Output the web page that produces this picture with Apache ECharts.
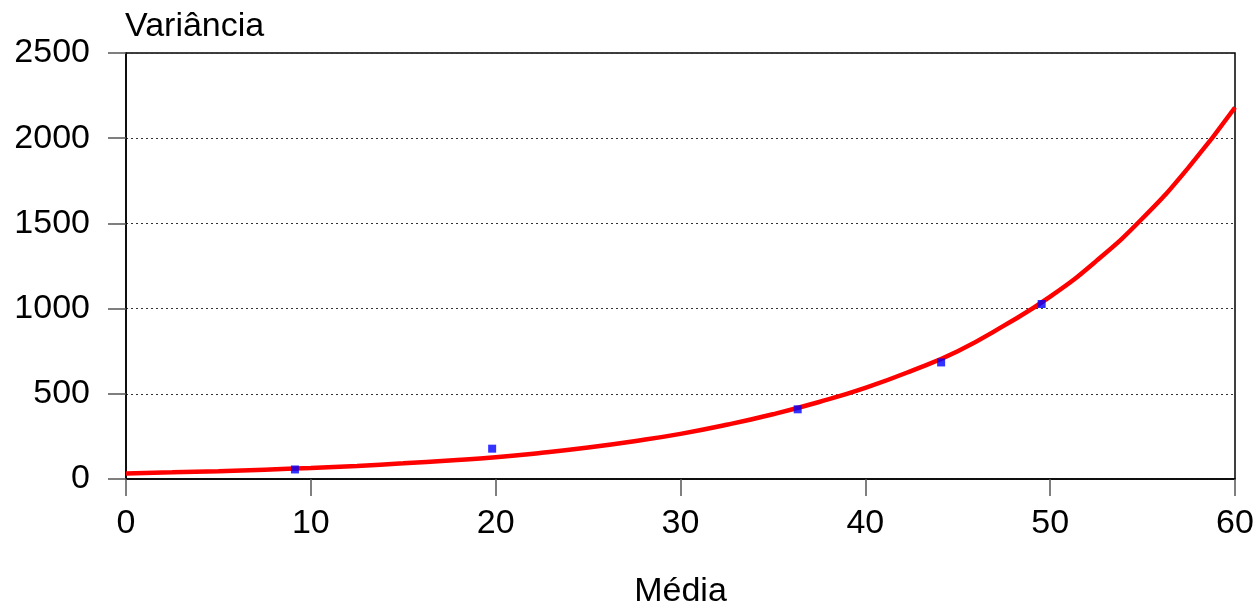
<!DOCTYPE html>
<html>
<head>
<meta charset="utf-8">
<script src="https://cdn.jsdelivr.net/npm/echarts@6/dist/echarts.min.js"></script>
<style>html,body{margin:0;padding:0;background:#fff;overflow:hidden}#c{width:1260px;height:614px}</style>
</head>
<body>
<div id="c"></div>
<script>
// Observed points (Média, Variância)
var pointX = [9.14, 19.81, 36.34, 44.1, 49.54];
var pointY = [56, 178, 409, 684, 1027];
// Fitted curve
var curveX = [0, 2.5, 5, 7.5, 10, 12.5, 15, 17.5, 20, 22.5, 25, 27.5, 30, 32.5, 35, 37.5, 40, 42.5, 45, 47.5, 50, 52.5, 55, 57.5, 60];
var curveY = [33, 39, 46, 55, 65, 77, 92, 109, 128, 154, 185, 222, 265, 318, 380, 452, 535, 635, 750, 900, 1070, 1280, 1530, 1830, 2180];
var xTicks = [0, 10, 20, 30, 40, 50, 60];
var yTicks = [0, 500, 1000, 1500, 2000, 2500];

var font = 'Liberation Sans, Arial, sans-serif';
var chart = echarts.init(document.getElementById('c'));
chart.setOption({
  animation: false,
  backgroundColor: '#fff',
  title: {
    text: 'Variância', left: 120, top: 5,
    textStyle: {fontFamily: font, fontSize: 34, fontWeight: 'normal', color: '#000'}
  },
  grid: {left: 126, right: 25, top: 53, bottom: 127, show: true, borderColor: '#000', borderWidth: 1.5, backgroundColor: 'transparent'},
  xAxis: {
    type: 'value', min: xTicks[0], max: xTicks[xTicks.length - 1], interval: 10,
    name: 'Média', nameLocation: 'middle', nameGap: 96,
    nameTextStyle: {fontFamily: font, fontSize: 34, color: '#000'},
    axisLine: {show: true, lineStyle: {color: '#000', width: 1.5}},
    axisTick: {show: true, length: 17, lineStyle: {color: '#555', width: 1.5}},
    axisLabel: {fontFamily: font, fontSize: 34, color: '#000', margin: 28, formatter: function (v) { return String(v); }},
    splitLine: {show: false}
  },
  yAxis: {
    type: 'value', min: yTicks[0], max: yTicks[yTicks.length - 1], interval: 500,
    axisLine: {show: true, lineStyle: {color: '#000', width: 1.5}},
    axisTick: {show: true, length: 18, lineStyle: {color: '#555', width: 1.5}},
    axisLabel: {fontFamily: font, fontSize: 34, color: '#000', margin: 36, formatter: function (v) { return String(v); }},
    splitLine: {show: true, lineStyle: {color: '#333', type: [2, 3], width: 1}}
  },
  series: [
    {
      type: 'line', smooth: true, showSymbol: false, symbol: 'none',
      data: curveX.map(function (x, i) { return [x, curveY[i]]; }),
      lineStyle: {color: '#ff0000', width: 4.5}, z: 2
    },
    {
      type: 'scatter', symbol: 'rect', symbolSize: 8,
      data: pointX.map(function (x, i) { return [x, pointY[i]]; }),
      itemStyle: {color: '#0000ff'}, z: 3
    }
  ]
});
</script>
</body>
</html>
